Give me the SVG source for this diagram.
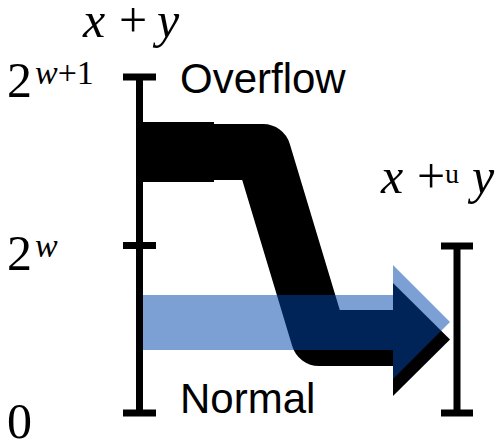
<svg xmlns="http://www.w3.org/2000/svg" width="501" height="440" viewBox="0 0 501 440">
<style>
.ax{stroke:#000;stroke-width:7;fill:none}
.m{font-family:"Liberation Serif","Times New Roman",serif;fill:#000}
.i{font-style:italic}
.s{font-family:"Liberation Sans",Arial,sans-serif;font-size:42px;fill:#000}
</style>
<g id="axis-left">
<line class="ax" x1="139.5" y1="77" x2="139.5" y2="413"/>
<line class="ax" x1="123" y1="77" x2="156" y2="77"/>
<line class="ax" x1="123" y1="245.5" x2="156" y2="245.5"/>
<line class="ax" x1="123" y1="413" x2="156" y2="413"/>
</g>
<g id="axis-right">
<line class="ax" x1="457" y1="246" x2="457" y2="413"/>
<line class="ax" x1="441" y1="246" x2="473" y2="246"/>
<line class="ax" x1="441" y1="413" x2="473" y2="413"/>
</g>
<g id="connectors">
<g id="overflow-flow">
<rect x="142" y="122" width="72" height="60" fill="#000"/>
<path d="M142 152 L263 152 L319 338 L393 338" fill="none" stroke="#000" stroke-width="56" stroke-linejoin="round"/>
<polygon points="393,283 450,339.5 393,396" fill="#000"/>
</g>
<g id="normal-flow" opacity="0.51">
<rect x="143" y="295" width="250" height="55" fill="#0047AB"/>
<polygon points="393,265 450,322 393,379" fill="#0047AB"/>
</g>
</g>
<g id="label-xy">
<text class="m" font-size="50" y="37"><tspan class="i" x="83">x</tspan><tspan x="119">+</tspan><tspan class="i" x="157">y</tspan></text>
</g>
<g id="label-2w1">
<text class="m" font-size="50" x="7" y="97">2</text>
<text class="m" font-size="34" x="35" y="84"><tspan class="i">w</tspan>+1</text>
</g>
<g id="label-2w">
<text class="m" font-size="50" x="7" y="270">2</text>
<text class="m i" font-size="34" x="35" y="257">w</text>
</g>
<g id="label-0">
<text class="m" font-size="50" x="7" y="438">0</text>
</g>
<g id="label-xuy">
<text class="m" font-size="50" y="193"><tspan class="i" x="381">x</tspan><tspan x="417">+</tspan><tspan class="i" x="472">y</tspan></text>
<text class="m" font-size="28" x="445" y="183">u</text>
</g>
<g id="label-overflow"><text class="s" x="180" y="93">Overflow</text></g>
<g id="label-normal"><text class="s" x="180" y="413">Normal</text></g>
</svg>
